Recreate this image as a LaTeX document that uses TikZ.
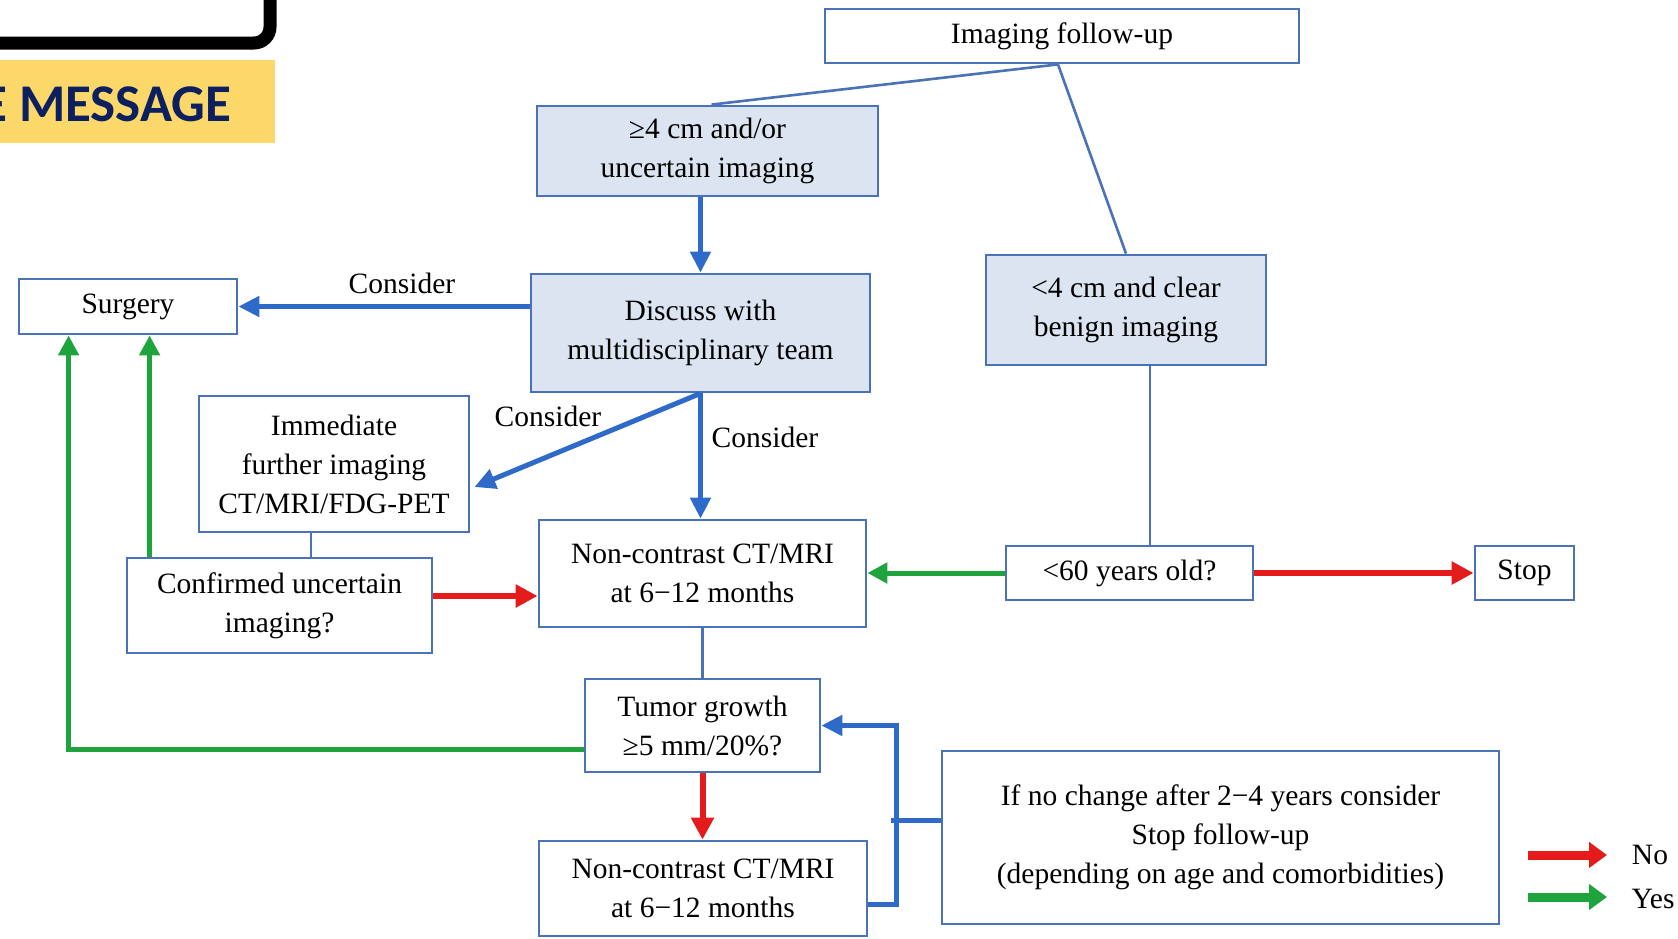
\documentclass[tikz,border=0pt]{standalone}
\usepackage{fontspec}
\setmainfont{Liberation Serif}
\newfontfamily\bannerfont{Carlito}
\usetikzlibrary{arrows.meta,calc}
\definecolor{boxblue}{HTML}{4A72B8}
\definecolor{arrblue}{HTML}{2E6AC9}
\definecolor{fillblue}{HTML}{DCE3F1}
\definecolor{agreen}{HTML}{1FA33D}
\definecolor{ared}{HTML}{E51A1A}
\definecolor{bannery}{HTML}{FCD86A}
\definecolor{navy}{HTML}{0C1F5E}
\begin{document}
\begin{tikzpicture}[x=1pt,y=-1pt,
  font=\fontsize{29.5}{39}\selectfont,
  box/.style={draw=boxblue,line width=2.8pt,fill=white,align=center,inner sep=0pt},
  sbox/.style={box,fill=fillblue},
  thinline/.style={draw=boxblue,line width=2.6pt},
  barrow/.style={draw=arrblue,line width=5pt,-{Triangle[width=20pt,length=21pt]}},
  bline/.style={draw=arrblue,line width=5pt},
  garrow/.style={draw=agreen,line width=5pt,-{Triangle[width=20pt,length=20pt]}},
  rarrow/.style={draw=ared,line width=6pt,-{Triangle[width=22pt,length=22pt]}},
  legred/.style={draw=ared,line width=9pt,-{Triangle[width=25pt,length=18pt]}},
  leggreen/.style={draw=agreen,line width=9pt,-{Triangle[width=25pt,length=18pt]}},
  lbl/.style={inner sep=0pt}
]
\useasboundingbox (0,0) rectangle (1678,938);
\clip (0,0) rectangle (1678,938);

% top-left decoration
\draw[line width=13pt, rounded corners=16pt] (-18,-60) rectangle (270,43);
\fill[bannery] (0,60) rectangle (275,143);
\node[anchor=base west, inner sep=0pt, text=navy, font=\bannerfont\bfseries\fontsize{53}{53}\selectfont] (ban) at (-19,121) {E MESSAGE};

% boxes
\node[box, minimum width=474pt, minimum height=54pt] (img) at (1062,36) {Imaging follow-up};
\node[sbox, minimum width=341pt, minimum height=90pt] (big) at (707.5,151) {≥4 cm and/or\\uncertain imaging};
\node[sbox, minimum width=339pt, minimum height=118pt] (mdt) at (700.5,333) {Discuss with\\multidisciplinary team};
\node[sbox, minimum width=280pt, minimum height=110pt] (small) at (1126,310) {<4 cm and clear\\benign imaging};
\node[box, minimum width=218pt, minimum height=55pt] (surg) at (128,306.5) {Surgery};
\node[box, minimum width=270pt, minimum height=136pt] (imm) at (334,464) {Immediate\\further imaging\\CT/MRI/FDG-PET};
\node[box, minimum width=305pt, minimum height=95pt] (conf) at (279.5,605.5) {Confirmed uncertain\\imaging?};
\node[box, minimum width=327pt, minimum height=107pt] (nc1) at (702.5,573.5) {Non-contrast CT/MRI\\at 6−12 months};
\node[box, minimum width=247pt, minimum height=54pt] (age) at (1129.5,573) {<60 years old?};
\node[box, minimum width=99pt, minimum height=54pt] (stop) at (1524.5,573) {Stop};
\node[box, minimum width=235pt, minimum height=93pt] (tum) at (702.5,725.5) {Tumor growth\\≥5 mm/20\%?};
\node[box, minimum width=328pt, minimum height=95pt] (nc2) at (703,888.5) {Non-contrast CT/MRI\\at 6−12 months};
\node[box, minimum width=557pt, minimum height=173pt] (nochg) at (1220.5,837.5) {If no change after 2−4 years consider\\Stop follow-up\\(depending on age and comorbidities)};

% connectors
\draw[thinline] ([xshift=-4pt]img.south) -- ([xshift=4pt]big.north);
\draw[thinline] ([xshift=-4pt]img.south) -- (small.north);
\draw[barrow] (big.south -| mdt.north) -- (mdt.north);
\draw[barrow] (surg.east -| mdt.west) -- (surg.east);
\node[lbl] (c1) at (402,283) {Consider};
\draw[barrow] (mdt.south) -- ([shift={(4,23)}]imm.east);
\node[lbl] (c2) at (548,416) {Consider};
\draw[barrow] (mdt.south) -- (mdt.south |- nc1.north);
\node[lbl] (c3) at (765,437) {Consider};
\draw[thinline] ([xshift=-23pt]imm.south) -- ([xshift=-23pt]imm.south |- conf.north);
\draw[rarrow] ([yshift=9.5pt]conf.east) -- ([yshift=9.5pt]conf.east -| nc1.west);
\draw[garrow] ([xshift=24pt]conf.north west) -- ([xshift=24pt]conf.north west |- surg.south);
\draw[thinline] ([xshift=24pt]small.south) -- ([xshift=24pt]small.south |- age.north);
\draw[garrow] (age.west) -- (age.west -| nc1.east);
\draw[rarrow] (age.east) -- (age.east -| stop.west);
\draw[thinline] (nc1.south) -- (nc1.south |- tum.north);
\draw[garrow] ([yshift=-23.5pt]tum.west) -| ([xshift=51pt]surg.south west);
\draw[rarrow] (tum.south) -- (tum.south |- nc2.north);
\draw[barrow, line join=miter] ([yshift=-15.5pt]nc2.east) -| ($(tum.east)+(75,0)$) -- (tum.east);
\draw[bline] ([yshift=17.5pt]nochg.west) -- ($([yshift=17.5pt]nochg.west)+(-49.5,0)$);

% legend
\coordinate (n1) at (1528,855);
\coordinate (n2) at (1607,855);
\coordinate (y1) at (1528,897);
\coordinate (y2) at (1607,897);
\draw[legred] (n1) -- (n2);
\draw[leggreen] (y1) -- (y2);
\node[lbl] (no) at (1650,855) {No};
\node[lbl] (yes) at (1653,899) {Yes};
\end{tikzpicture}
\end{document}
